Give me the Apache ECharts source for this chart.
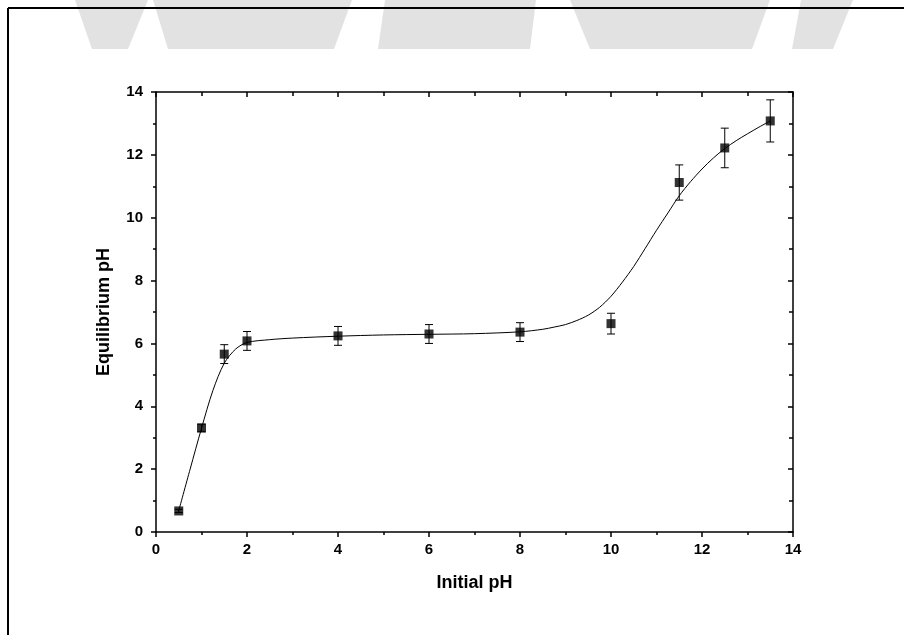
<!DOCTYPE html>
<html>
<head>
<meta charset="utf-8">
<script src="https://cdn.jsdelivr.net/npm/echarts@6/dist/echarts.min.js"></script>
<style>
  html, body { margin: 0; padding: 0; background: #fff; }
  #main { width: 904px; height: 635px; }
</style>
</head>
<body>
<div id="main"></div>
<script>
// measured points: initial pH, equilibrium pH, error
var initialPH = [0.5, 1, 1.5, 2, 4, 6, 8, 10, 11.5, 12.5, 13.5];
var equilPH = [0.67, 3.31, 5.66, 6.08, 6.24, 6.3, 6.36, 6.63, 11.12, 12.22, 13.08];
var errPH = [0.05, 0.12, 0.3, 0.3, 0.3, 0.3, 0.3, 0.33, 0.56, 0.63, 0.67];

// fitted curve
var fitX = [0.5, 0.75, 1, 1.25, 1.5, 1.75, 2, 2.5, 3, 4, 5, 6, 7, 8, 8.5, 8.75, 9, 9.25, 9.5, 9.75, 10, 10.25, 10.5, 10.75, 11, 11.25, 11.5, 11.75, 12, 12.25, 12.5, 12.75, 13, 13.25, 13.5];
var fitY = [0.68, 2.0, 3.3, 4.5, 5.37, 5.82, 6.03, 6.12, 6.17, 6.23, 6.27, 6.29, 6.31, 6.37, 6.45, 6.52, 6.6, 6.73, 6.9, 7.15, 7.5, 7.95, 8.45, 9.02, 9.6, 10.15, 10.7, 11.15, 11.55, 11.9, 12.2, 12.45, 12.67, 12.88, 13.08];

var ticksX = [0, 2, 4, 6, 8, 10, 12, 14];
var ticksY = [0, 2, 4, 6, 8, 10, 12, 14];

var points = initialPH.map(function (x, i) { return [x, equilPH[i]]; });
var errData = initialPH.map(function (x, i) { return [x, equilPH[i], errPH[i]]; });
var fitData = fitX.map(function (x, i) { return [x, fitY[i]]; });

var font = '"Liberation Sans", Arial, sans-serif';
var black = '#000';

function mainAxis(pos, ticks) {
    return {
        type: 'value', position: pos,
        min: ticks[0], max: ticks[ticks.length - 1], interval: ticks[1] - ticks[0],
        axisLine: { show: true, onZero: false, lineStyle: { color: black, width: 1.5 } },
        axisTick: { show: true, inside: false, length: 5, lineStyle: { color: black, width: 1.5 } },
        minorTick: { show: true, splitNumber: 2, length: 3, lineStyle: { color: black, width: 1.5 } },
        splitLine: { show: false },
        axisLabel: { color: black, fontFamily: font, fontWeight: 'bold', fontSize: 15 },
        nameTextStyle: { color: black, fontFamily: font, fontWeight: 'bold', fontSize: 18 },
        nameLocation: 'middle'
    };
}
function mirrorAxis(pos, ticks) {
    return {
        type: 'value', position: pos,
        min: ticks[0], max: ticks[ticks.length - 1], interval: ticks[1] - ticks[0],
        axisLine: { show: true, onZero: false, lineStyle: { color: black, width: 1.5 } },
        axisTick: { show: true, inside: true, length: 5, lineStyle: { color: black, width: 1.5 } },
        minorTick: { show: true, splitNumber: 2, length: 4, lineStyle: { color: black, width: 1.5 } },
        splitLine: { show: false },
        axisLabel: { show: false }
    };
}

var xBottom = mainAxis('bottom', ticksX);
xBottom.name = 'Initial pH';
xBottom.nameGap = 42;
xBottom.axisLabel.margin = 10;
var yLeft = mainAxis('left', ticksY);
yLeft.name = 'Equilibrium pH';
yLeft.nameGap = 43;
yLeft.axisLabel.margin = 13;

// faint watermark shapes at the top of the page
var shade = '#e2e2e2';
var wm = [
    [[75, 0], [148, 0], [128, 49], [92, 49]],
    [[153, 0], [352, 0], [334, 49], [168, 49]],
    [[385, 0], [536, 0], [530, 49], [378, 49]],
    [[570, 0], [770, 0], [752, 49], [590, 49]],
    [[801, 0], [853, 0], [833, 49], [792, 49]]
].map(function (pts) {
    return { type: 'polygon', shape: { points: pts }, style: { fill: shade }, z: -10 };
});

var myChart = echarts.init(document.getElementById('main'));
myChart.setOption({
    backgroundColor: '#fff',
    animation: false,
    grid: { left: 156, right: 111, top: 92, bottom: 103 },
    xAxis: [xBottom, mirrorAxis('top', ticksX)],
    yAxis: [yLeft, mirrorAxis('right', ticksY)],
    graphic: wm.concat([
        { type: 'line', shape: { x1: 8, y1: 8, x2: 904, y2: 8 }, style: { stroke: black, lineWidth: 2 }, z: 10 },
        { type: 'line', shape: { x1: 8, y1: 8, x2: 8, y2: 635 }, style: { stroke: black, lineWidth: 2 }, z: 10 }
    ]),
    series: [
        {
            type: 'line', data: fitData, smooth: 0.3, showSymbol: false,
            lineStyle: { color: black, width: 1 }, z: 2
        },
        {
            type: 'custom', data: errData, z: 3,
            renderItem: function (params, api) {
                var x = api.value(0), y = api.value(1), e = api.value(2);
                var top = api.coord([x, y + e]);
                var bot = api.coord([x, y - e]);
                var w = 4;
                var st = { stroke: black, lineWidth: 1 };
                return {
                    type: 'group',
                    children: [
                        { type: 'line', shape: { x1: top[0], y1: top[1], x2: bot[0], y2: bot[1] }, style: st },
                        { type: 'line', shape: { x1: top[0] - w, y1: top[1], x2: top[0] + w, y2: top[1] }, style: st },
                        { type: 'line', shape: { x1: bot[0] - w, y1: bot[1], x2: bot[0] + w, y2: bot[1] }, style: st }
                    ]
                };
            }
        },
        {
            type: 'scatter', data: points, symbol: 'rect', symbolSize: 9,
            itemStyle: { color: black }, z: 4
        }
    ]
});
</script>
</body>
</html>
